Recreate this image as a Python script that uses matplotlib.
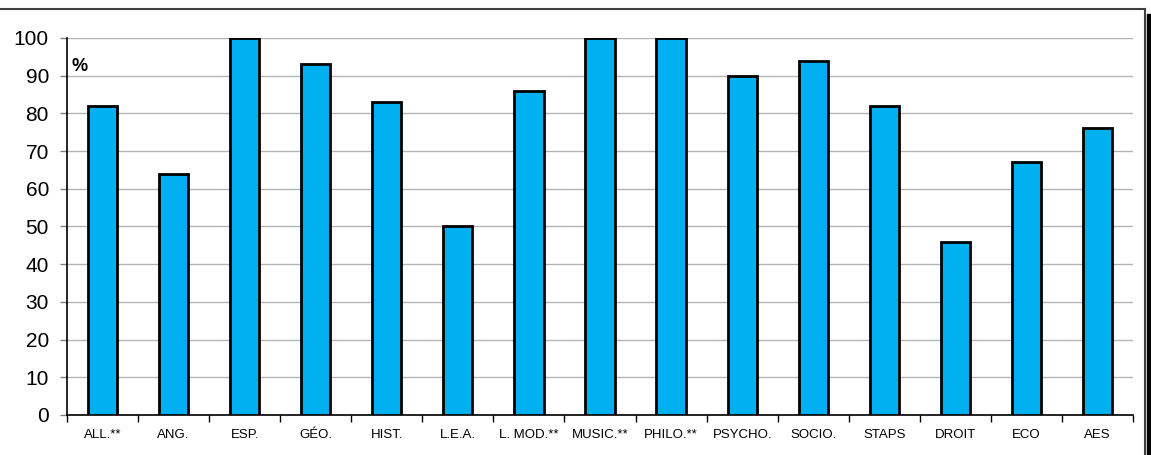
import matplotlib
matplotlib.use("Agg")
import matplotlib.pyplot as plt
from matplotlib.lines import Line2D
from matplotlib.patches import Rectangle
import numpy as np

plt.rcParams['font.family'] = ['Liberation Sans', 'DejaVu Sans']

categories = ["ALL.**", "ANG.", "ESP.", "GÉO.", "HIST.", "L.E.A.", "L. MOD.**",
              "MUSIC.**", "PHILO.**", "PSYCHO.", "SOCIO.", "STAPS", "DROIT", "ECO", "AES"]
values = [82, 64, 100, 93, 83, 50, 86, 100, 100, 90, 94, 82, 46, 67, 76]
yticks = list(range(0, 101, 10))

W, H = 1151, 455
fig = plt.figure(figsize=(W / 100, H / 100), dpi=100)
ax = fig.add_axes([67 / W, (H - 415) / H, (1133 - 67) / W, (415 - 38) / H])

x = np.arange(len(categories))
ax.bar(x, values, width=0.41, color="#00B0F0", edgecolor="black", linewidth=2.0, zorder=3)

ax.set_xlim(-0.5, len(categories) - 0.5)
ax.set_ylim(0, 100)
ax.set_yticks(yticks)
ax.set_yticklabels([str(t) for t in yticks], fontsize=15)
ax.yaxis.grid(True, color="#b4b4b4", linewidth=1.0, zorder=0)
ax.set_axisbelow(True)

ax.set_xticks(x)
ax.set_xticklabels(categories, fontsize=9.5)
ax.tick_params(axis='x', length=0, pad=10)
ax.set_xticks(np.arange(-0.5, len(categories)), minor=True)
ax.tick_params(axis='x', which='minor', length=5, direction='out', color='black', width=1)
ax.tick_params(axis='y', length=5, direction='out', color='#808080', width=1, pad=8)

for s in ['top', 'right']:
    ax.spines[s].set_visible(False)
for s in ['left', 'bottom']:
    ax.spines[s].set_color('black')
    ax.spines[s].set_linewidth(1.2)

ax.text(0.004, 0.925, "%", transform=ax.transAxes, fontsize=13, fontweight='bold',
        ha='left', va='center')

# outer frame
fig.add_artist(Line2D([0, 1145 / W], [1 - 9 / H, 1 - 9 / H], transform=fig.transFigure,
                      color="#404040", linewidth=1.5))
fig.add_artist(Line2D([1145 / W, 1145 / W], [0, 1 - 9 / H], transform=fig.transFigure,
                      color="#404040", linewidth=1.5))
fig.add_artist(Rectangle((1147 / W, 0), 4 / W, 1 - 14 / H, transform=fig.transFigure,
                         color="black"))

fig.savefig("out.png", dpi=100)
